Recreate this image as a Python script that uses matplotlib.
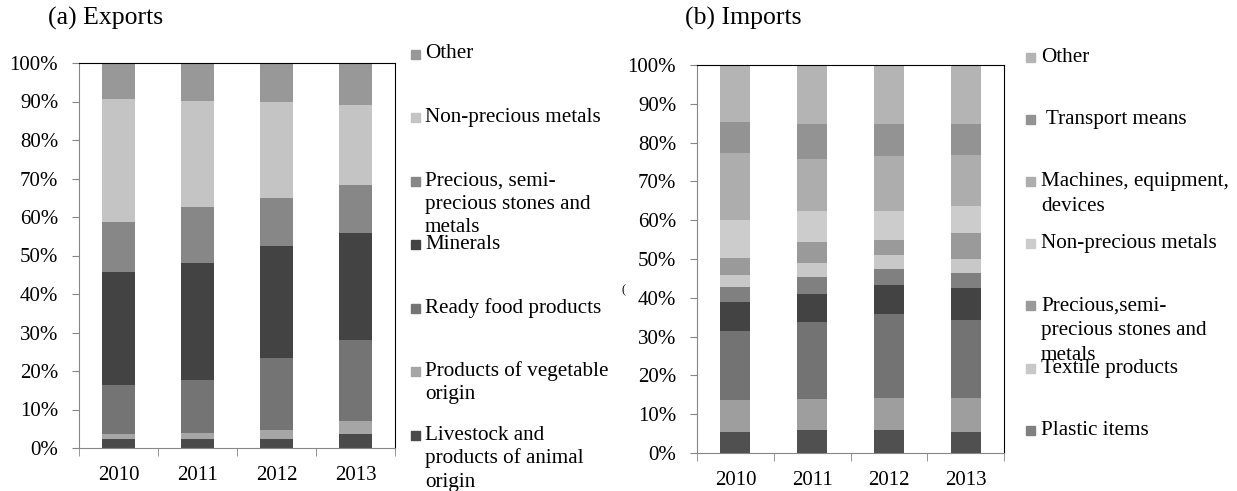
import numpy as np
import matplotlib
matplotlib.use("Agg")
import matplotlib.pyplot as plt
from matplotlib.patches import Rectangle

plt.rcParams['font.family'] = ['Liberation Serif', 'DejaVu Serif']

years = ["2010", "2011", "2012", "2013"]

# --- Exports (bottom -> top), % share ---
exp_labels = ["Livestock and\nproducts of animal\norigin",
              "Products of vegetable\norigin",
              "Ready food products",
              "Minerals",
              "Precious, semi-\nprecious stones and\nmetals",
              "Non-precious metals",
              "Other"]
exp_livestock = [2.3, 2.3, 2.3, 3.6]
exp_vegetable = [1.3, 1.7, 2.4, 3.3]
exp_food = [12.7, 13.7, 18.6, 21.1]
exp_minerals = [29.3, 30.3, 29.1, 27.8]
exp_precious = [13.0, 14.7, 12.6, 12.5]
exp_nonprecious = [32.1, 27.4, 24.8, 20.8]
exp_other = [9.3, 9.9, 10.2, 10.9]
exp_colors = ["#4a4a4a", "#a6a6a6", "#747474", "#434343", "#878787", "#c4c4c4", "#989898"]

# --- Imports (bottom -> top), % share ---
imp_labels = ["Livestock and products of animal origin",
              "Products of vegetable origin",
              "Ready food products",
              "Minerals",
              "Plastic items",
              "Textile products",
              "Precious,semi-\nprecious stones and\nmetals",
              "Non-precious metals",
              "Machines, equipment,\ndevices",
              " Transport means",
              "Other"]
imp_livestock = [5.4, 5.8, 5.8, 5.4]
imp_vegetable = [8.3, 8.2, 8.4, 8.8]
imp_food = [17.8, 19.8, 21.6, 20.0]
imp_minerals = [7.3, 7.3, 7.6, 8.2]
imp_plastic = [3.9, 4.3, 4.0, 4.0]
imp_textile = [3.3, 3.6, 3.6, 3.6]
imp_precious = [4.3, 5.3, 4.0, 6.7]
imp_nonprecious = [9.7, 8.0, 7.3, 6.9]
imp_machines = [17.4, 13.6, 14.2, 13.2]
imp_transport = [8.0, 8.8, 8.2, 7.9]
imp_other = [14.6, 15.3, 15.3, 15.3]
imp_colors = ["#505050", "#9e9e9e", "#737373", "#434343", "#808080", "#c8c8c8",
              "#9a9a9a", "#cccccc", "#adadad", "#939393", "#b4b4b4"]

exp_series = [exp_livestock, exp_vegetable, exp_food, exp_minerals,
              exp_precious, exp_nonprecious, exp_other]
imp_series = [imp_livestock, imp_vegetable, imp_food, imp_minerals, imp_plastic,
              imp_textile, imp_precious, imp_nonprecious, imp_machines,
              imp_transport, imp_other]

W, H = 1237, 491
fig = plt.figure(figsize=(W / 100, H / 100), dpi=100)


def px_axes(x0, y0, x1, y1):
    # pixel box (from top-left) -> axes
    return fig.add_axes([x0 / W, 1 - y1 / H, (x1 - x0) / W, (y1 - y0) / H])


def stacked(ax, series, colors, width):
    x = np.arange(len(years))
    bottom = np.zeros(len(years))
    for vals, c in zip(series, colors):
        vals = np.array(vals, dtype=float)
        ax.bar(x, vals, width, bottom=bottom, color=c, edgecolor="none")
        bottom += vals
    ax.set_xlim(-0.5, len(years) - 0.5)
    ax.set_ylim(0, 100)
    ax.set_yticks(np.arange(0, 101, 10))
    ax.set_yticklabels([f"{v}%" for v in range(0, 101, 10)], fontsize=15)
    ax.set_xticks(x)
    ax.set_xticklabels(years, fontsize=15)
    ax.set_xticks(np.arange(-0.5, len(years)), minor=True)
    ax.tick_params(axis="x", which="major", length=0, pad=13)
    ax.tick_params(axis="x", which="minor", length=6, color="#868686", direction="out")
    ax.tick_params(axis="y", length=5, color="#868686", direction="out", pad=10)
    for s in ["left", "bottom"]:
        ax.spines[s].set_color("#868686")
    for s in ["top", "right"]:
        ax.spines[s].set_color("black")


def legend(labels, colors, x_sw, x_txt, y_first, step, line_h):
    n = len(labels)
    for i in range(n):
        lab = labels[n - 1 - i]
        col = colors[n - 1 - i]
        y = y_first + i * step
        fig.patches.append(Rectangle(((x_sw) / W, 1 - (y + 4.5) / H), 9 / W, 9 / H,
                                     transform=fig.transFigure, color=col))
        for j, line in enumerate(lab.split("\n")):
            fig.text(x_txt / W, 1 - (y + j * line_h) / H, line, fontsize=15.2,
                     va="center", ha="left")


ax1 = px_axes(79, 63, 395, 448)
stacked(ax1, exp_series, exp_colors, 0.41)
ax2 = px_axes(697, 65, 1004, 453)
stacked(ax2, imp_series, imp_colors, 0.39)

fig.text(106 / W, 1 - 18 / H, "(a) Exports", fontsize=18.5, ha="center", va="center")
fig.text(743 / W, 1 - 18 / H, "(b) Imports", fontsize=18.5, ha="center", va="center")

legend(exp_labels, exp_colors, 411, 425, 54, 63.5, 23.5)
# only the top 7 import categories fit in the legend box
legend(imp_labels[4:], imp_colors[4:], 1026, 1041, 57, 62.2, 25)

fig.text(622 / W, 1 - 290 / H, "(", fontsize=9, va="center")

fig.savefig("out.png", dpi=100)
